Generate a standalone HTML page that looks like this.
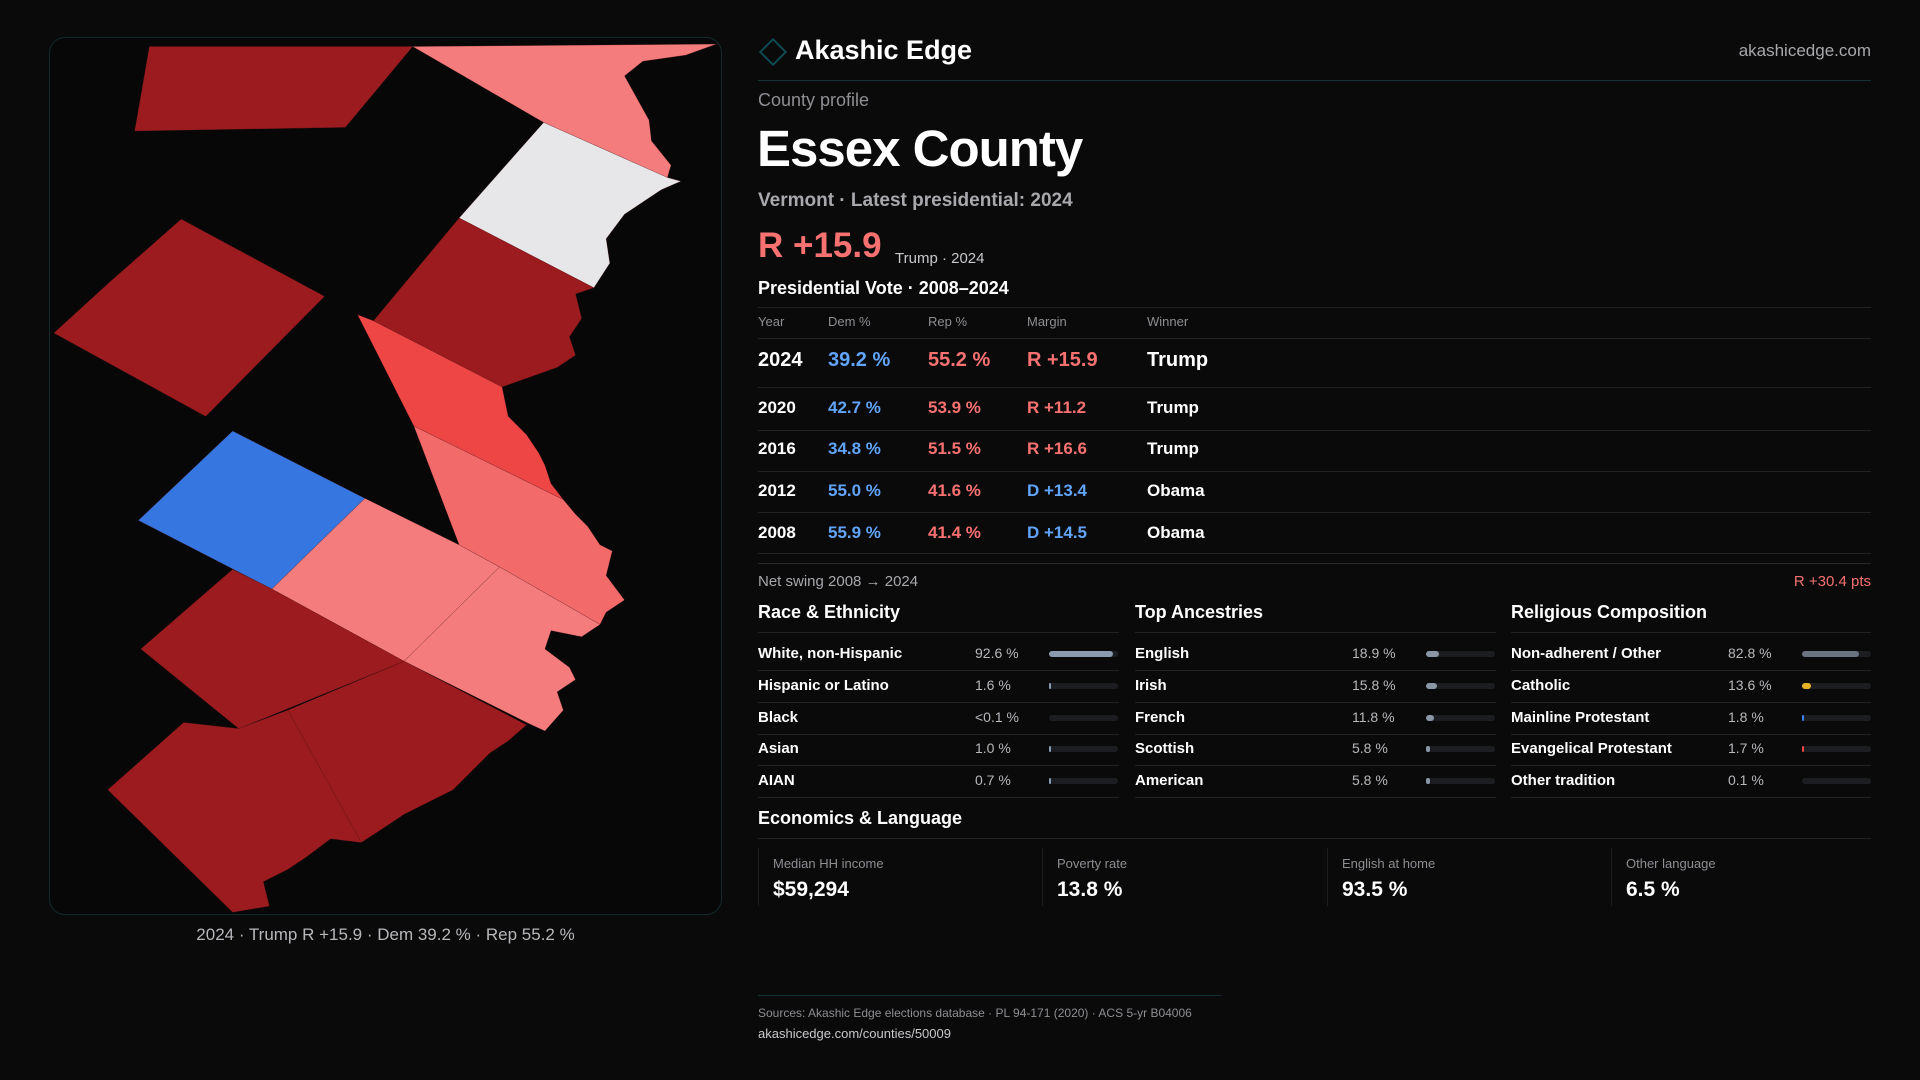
<!DOCTYPE html>
<html><head><meta charset="utf-8">
<style>
*{margin:0;padding:0;box-sizing:border-box}
body{width:1920px;height:1080px;background:#0a0a0b;font-family:"Liberation Sans",sans-serif;color:#fff;position:relative;overflow:hidden}
.t{position:absolute;white-space:nowrap;line-height:1}
.hl{position:absolute;height:1px;background:#222327}
</style></head>
<body>
<div style="position:absolute;left:49px;top:37px;width:673px;height:878px;border:1px solid #12292c;border-radius:16px;background:#070708"></div>
<svg style="position:absolute;left:0;top:0" width="1920" height="1080" viewBox="0 0 1568 882">
<g stroke="#5a1416" stroke-width="0.4" stroke-opacity="0.5">
<polygon fill="#9b1b1e" points="122,38 337,38 282,104 110,107"/>
<polygon fill="#f47c7c" points="337,38 585,36 560,45 525,50 510,62 520,80 530,98 532,115 548,135 545,145 444,100"/>
<polygon fill="#e7e7ea" points="444,100 545,145 556,148 540,155 525,165 510,175 495,195 498,215 485,235 375,178"/>
<polygon fill="#9b1b1e" points="375,178 485,235 470,240 475,260 465,275 470,290 455,300 410,316 305,262"/>
<polygon fill="#9b1b1e" points="148,179 265,242 168,340 44,272 90,230"/>
<polygon fill="#ee4545" points="292,257 305,262 410,316 415,340 430,355 440,370 445,380 450,395 460,408 338,348"/>
<polygon fill="#3676e0" points="190,352 298,407 222,481 113,425"/>
<polygon fill="#f26a6a" points="338,348 460,408 470,420 480,430 490,445 500,450 495,470 510,490 495,500 490,510 408,463 375,445"/>
<polygon fill="#f47c7c" points="298,407 375,445 408,463 330,540 222,481"/>
<polygon fill="#f47c7c" points="408,463 490,510 475,520 450,515 445,530 465,545 470,555 455,565 460,580 445,597 430,590 330,540"/>
<polygon fill="#9b1b1e" points="115,530 190,465 222,481 330,540 195,595"/>
<polygon fill="#9b1b1e" points="235,580 330,540 430,592 415,605 400,615 385,630 370,645 350,655 330,665 315,675 295,688"/>
<polygon fill="#9b1b1e" points="88,645 150,590 195,595 235,580 295,688 270,685 250,700 235,710 215,720 220,740 190,745"/>
</g></svg>
<div class="t" style="left:49px;width:673px;text-align:center;top:926px;font-size:17px;color:#b8b8bc">2024 · Trump R +15.9 · Dem 39.2 % · Rep 55.2 %</div>

<div style="position:absolute;left:763px;top:42px;width:20px;height:20px;border:2px solid #0e4a52;transform:rotate(45deg)"></div>
<div class="t" style="left:795px;top:37px;font-size:27px;font-weight:bold">Akashic Edge</div>
<div class="t" style="right:49px;top:42px;font-size:17px;color:#a8a8ad">akashicedge.com</div>
<div class="hl" style="left:758px;width:1113px;top:80px;background:#123237"></div>
<div class="t" style="left:758px;top:91px;font-size:18px;color:#8e8e93">County profile</div>
<div class="t" style="left:757px;top:123px;font-size:51px;font-weight:bold;letter-spacing:-1px">Essex County</div>
<div class="t" style="left:758px;top:191px;font-size:19px;color:#a8a8ad;font-weight:bold">Vermont · Latest presidential: 2024</div>
<div class="t" style="left:758px;top:228px;font-size:35px;color:#f87171;font-weight:bold">R +15.9</div>
<div class="t" style="left:895px;top:251px;font-size:15px;color:#c8c8cc">Trump · 2024</div>
<div class="t" style="left:758px;top:279px;font-size:18px;font-weight:bold">Presidential Vote · 2008–2024</div>
<div id="vote"></div>

<div class="t" style="left:758px;top:574px;font-size:15px;color:#a8a8ad">Net swing 2008 → 2024</div>
<div class="t" style="right:49px;top:574px;font-size:15px;color:#f87171">R +30.4 pts</div>
<div id="demo"></div>

<div class="t" style="left:758px;top:809px;font-size:18px;font-weight:bold">Economics &amp; Language</div>
<div class="hl" style="left:758px;width:1113px;top:838px"></div>
<div id="econ"></div>

<div class="hl" style="left:758px;width:463px;top:995px;background:#123237"></div>
<div class="t" style="left:758px;top:1007px;font-size:12px;color:#8e8e93">Sources: Akashic Edge elections database · PL 94-171 (2020) · ACS 5-yr B04006</div>
<div class="t" style="left:758px;top:1027px;font-size:13px;color:#c8c8cc">akashicedge.com/counties/50009</div>

<script>
const years=[2024,2020,2016,2012,2008];
const demPct=[39.2,42.7,34.8,55.0,55.9];
const repPct=[55.2,53.9,51.5,41.6,41.4];
const margins=[15.9,11.2,16.6,-13.4,-14.5];
const winners=["Trump","Trump","Trump","Obama","Obama"];
const raceLabels=["White, non-Hispanic","Hispanic or Latino","Black","Asian","AIAN"];
const raceValues=[92.6,1.6,0.05,1.0,0.7];
const raceText=["92.6 %","1.6 %","<0.1 %","1.0 %","0.7 %"];
const ancLabels=["English","Irish","French","Scottish","American"];
const ancValues=[18.9,15.8,11.8,5.8,5.8];
const relLabels=["Non-adherent / Other","Catholic","Mainline Protestant","Evangelical Protestant","Other tradition"];
const relValues=[82.8,13.6,1.8,1.7,0.1];
const econLabels=["Median HH income","Poverty rate","English at home","Other language"];
const econValues=["$59,294","13.8 %","93.5 %","6.5 %"];

function txt(parent,s,x,yc,size,color,bold){
  const d=document.createElement('div');d.className='t';d.textContent=s;
  d.style.left=x+'px';d.style.top=(yc-size*0.55)+'px';d.style.fontSize=size+'px';d.style.color=color;
  if(bold)d.style.fontWeight='bold';parent.appendChild(d);return d;}
function rule(parent,x,y,w){const d=document.createElement('div');d.className='hl';d.style.left=x+'px';d.style.top=y+'px';d.style.width=w+'px';parent.appendChild(d);return d;}

const vote=document.getElementById('vote');
const BLUE='#60a5fa',RED='#f87171';
const cols=[758,828,928,1027,1147];
let r=rule(vote,758,307,1113);
["Year","Dem %","Rep %","Margin","Winner"].forEach((h,i)=>{
  const e=txt(vote,h,cols[i],322,13,'#8e8e93',false);
  
  });
r=rule(vote,758,338,1113);
const rowY=[361,408,449,491,533],ruleY=[387,430,471,512,553];
years.forEach((y,i)=>{
  const sz=i===0?20:17;
  const m=margins[i];
  const mt=(m>0?'R +':'D +')+Math.abs(m).toFixed(1);
  const cells=[[String(y),'#fff'],[demPct[i].toFixed(1)+' %',BLUE],[repPct[i].toFixed(1)+' %',RED],[mt,m>0?RED:BLUE],[winners[i],'#fff']];
  cells.forEach((c,j)=>{
    const e=txt(vote,c[0],cols[j],rowY[i],sz,c[1],true);
    
    });
  const l=rule(vote,758,ruleY[i],1113);
  
  
});
r=rule(vote,758,563,1113);r.style.background='#2a2b30';

const demo=document.getElementById('demo');
const groups=[
 {title:"Race & Ethnicity",x:758,labels:raceLabels,vals:raceValues,text:raceText,colors:['#8a9bb0','#8a9bb0','#8a9bb0','#8a9bb0','#8a9bb0']},
 {title:"Top Ancestries",x:1135,labels:ancLabels,vals:ancValues,text:null,colors:['#8a95a5','#8a95a5','#8a95a5','#8a95a5','#8a95a5']},
 {title:"Religious Composition",x:1511,labels:relLabels,vals:relValues,text:null,colors:['#6b7280','#e6b325','#3b82f6','#ef4444','#6b7280']}];
const rowsY=[654,686,718,749,781];
groups.forEach(g=>{
  const t=txt(demo,g.title,g.x,613,18,'#fff',true);
  
  
  const w=g.x===1511?360:361;
  const l0=rule(demo,g.x,632,w);
  
  
  g.labels.forEach((lab,i)=>{
    const a=txt(demo,lab,g.x,rowsY[i],15,'#fff',true);
    
    
    const vs=g.text?g.text[i]:g.vals[i].toFixed(1)+' %';
    const b=txt(demo,vs,g.x+217,rowsY[i],14,'#b8b8bc',false);
    
    
    const tr=document.createElement('div');
    
    
    Object.assign(tr.style,{position:'absolute',left:(g.x+291)+'px',top:(rowsY[i]-3)+'px',width:'69px',height:'6px',borderRadius:'3px',background:'#1c1d21'});
    demo.appendChild(tr);
    const f=document.createElement('div');
    
    
    const fw=Math.max(g.vals[i]>=0.5?2:0,69*g.vals[i]/100);
    Object.assign(f.style,{position:'absolute',left:'0',top:'0',height:'6px',width:fw+'px',borderRadius:'3px',background:g.colors[i]});
    tr.appendChild(f);
    const l=rule(demo,g.x,rowsY[i]+16,w);
    
    
  });
});

const econ=document.getElementById('econ');
const cardX=[758,1042,1327,1611];
econLabels.forEach((lab,i)=>{
  const c=document.createElement('div');
  
  
  Object.assign(c.style,{position:'absolute',left:cardX[i]+'px',top:'848px',width:'1px',height:'58px',background:'#1c1d21'});
  econ.appendChild(c);
  const a=txt(econ,lab,cardX[i]+15,864,13,'#8e8e93',false);
  
  
  const b=txt(econ,econValues[i],cardX[i]+15,891,21,'#fff',true);
  
  
});
</script>
</body></html>
